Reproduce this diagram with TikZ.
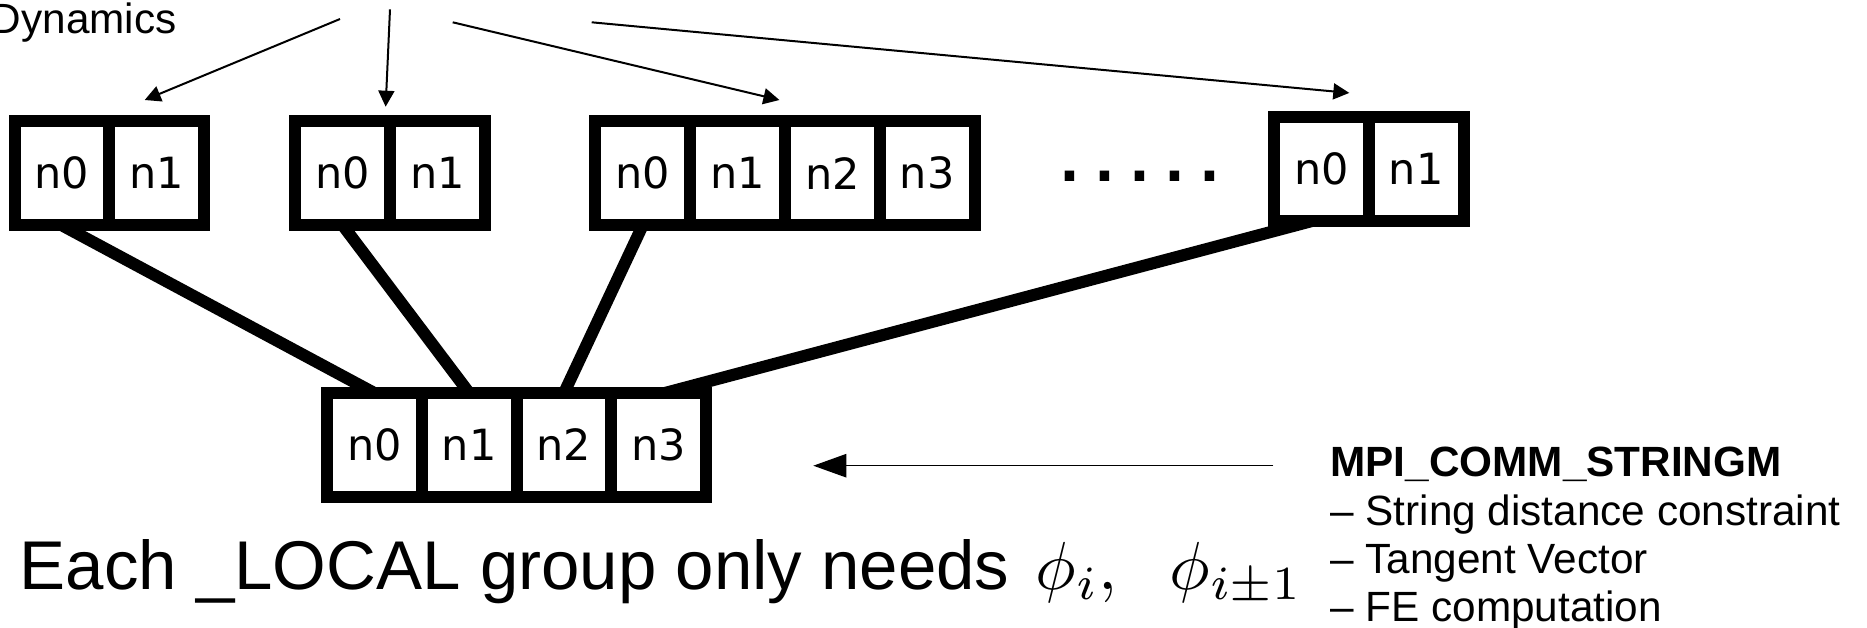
\RequirePackage{fix-cm}
\documentclass[tikz,border=0pt]{standalone}
\usepackage{amsmath}
\usepackage{graphicx}
\usepackage{fontspec}
\setmainfont{Liberation Sans}
\setmonofont{DejaVu Sans Mono}
\newfontfamily\cellfont{DejaVu Sans}
\usepackage{tikz}
\usetikzlibrary{arrows.meta, positioning}

\begin{document}
\begin{tikzpicture}[x=0.5pt,y=-0.5pt,node distance=0pt]

\tikzstyle{cell}=[rectangle,draw,fill=white,line width=6pt,minimum width=47.4pt,minimum height=52pt,inner sep=0pt,outer sep=0pt,font=\cellfont\fontsize{21.5}{21.5}\selectfont]
\tikzstyle{feed}=[draw,line width=1pt,-{Triangle[length=8pt,width=8pt]}]
\tikzstyle{link}=[draw,line width=6pt]
\tikzstyle{note}=[inner sep=0pt,anchor=base west,font=\fontsize{21.15}{24.15}\selectfont]

\useasboundingbox (0,0) rectangle (1867,627);

\node (dyn) [anchor=base east,inner sep=0pt,font=\fontsize{21.15}{24}\selectfont] at (177,33) {Dynamics};

\coordinate (src1) at (340,19);
\coordinate (src2) at (390,9.3);
\coordinate (src3) at (452.7,22.3);
\coordinate (src4) at (591.7,22.3);

% replicas
\node (a0) [cell] at (61.9,173.3) {n0};
\node (a1) [cell,right=of a0] {n1};

\node (b0) [cell] at (342.75,173.3) {n0};
\node (b1) [cell,right=of b0] {n1};

\node (c0) [cell] at (642.7,173.3) {n0};
\node (c1) [cell,right=of c0] {n1};
\node (c2) [cell,right=of c1] {n2};
\node (c3) [cell,right=of c2] {n3};

\node (dots) [anchor=base,inner sep=0pt,font=\ttfamily\bfseries\fontsize{29}{29}\selectfont] at (1140,181.7) {.....};

\node (d0) [cell] at (1321.3,169.2) {n0};
\node (d1) [cell,right=of d0] {n1};

% local group
\node (e0) [cell] at (374.4,445) {n0};
\node (e1) [cell,right=of e0] {n1};
\node (e2) [cell,right=of e1] {n2};
\node (e3) [cell,right=of e2] {n3};

\draw[feed] (src1) -- ([xshift=-6pt,yshift=10.65pt]a1.north);
\draw[feed] (src2) -- ([xshift=-2.25pt,yshift=7.3pt]b0.north east);
\draw[feed] (src3) -- ([xshift=-2.75pt,yshift=10.65pt]c1.north east);
\draw[feed] (src4) -- ([xshift=14pt,yshift=12.15pt]d0.north);

\draw[link] (a0.south) -- (e0.north);
\draw[link] (b0.south) -- (e1.north);
\draw[link] (c0.south) -- (e2.north);
\draw[link] ([xshift=-5pt]d0.south) -- ([xshift=3pt]e3.north);

\coordinate (commtail) at (1273.3,465.7);
\coordinate (commtip) at (813.3,465.7);
\draw[line width=0.65pt,-{Triangle[length=16.5pt,width=11.7pt]}] (commtail) -- (commtip);

\node (needs) [anchor=base west,inner sep=0pt,font=\fontsize{34.5}{40}\selectfont] at (19.5,589) {Each \_LOCAL group only needs\hspace{0.38em}\scalebox{3.4}{\fontsize{10}{12}\selectfont$\phi_i,\hspace{6pt}\phi_{i\pm1}$}};

\node (mpi) [note] at (1330,476.7) {\bfseries MPI\_COMM\_STRINGM};
\node (con1) [note] at ([yshift=-24.15pt]mpi.base west) {-- String distance constraint};
\node (con2) [note] at ([yshift=-24.15pt]con1.base west) {-- Tangent Vector};
\node (con3) [note] at ([yshift=-24.15pt]con2.base west) {-- FE computation};

\end{tikzpicture}
\end{document}
